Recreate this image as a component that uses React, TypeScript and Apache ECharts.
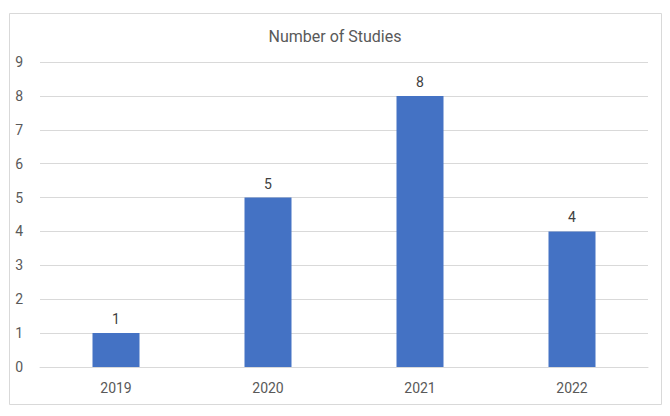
import React, { useEffect, useRef } from 'react'
import * as echarts from 'echarts'

const years = ['2019', '2020', '2021', '2022']
const studies = [1, 5, 8, 4]

const App: React.FC = () => {
    const chartRef = useRef<HTMLDivElement | null>(null)

    useEffect(() => {
        if (!chartRef.current) return
        const chart = echarts.init(chartRef.current, null, { renderer: 'svg' })

        chart.setOption({
            animation: false,
            textStyle: { fontFamily: 'Roboto, sans-serif' },
            title: {
                text: 'Number of Studies',
                left: 'center',
                top: 23,
                textStyle: { fontSize: 16, fontWeight: 'normal', color: '#595959' },
            },
            graphic: [
                {
                    type: 'rect',
                    shape: { x: 9.5, y: 13.5, width: 652, height: 391 },
                    style: { fill: 'none', stroke: '#d9d9d9', lineWidth: 1 },
                    silent: true,
                },
            ],
            grid: { left: 40, right: 22, top: 62, bottom: 49 },
            xAxis: {
                type: 'category',
                data: years,
                axisLine: { lineStyle: { color: '#d9d9d9' } },
                axisTick: { show: false },
                axisLabel: { color: '#595959', fontSize: 14, margin: 14 },
            },
            yAxis: {
                type: 'value',
                min: 0,
                max: 9,
                interval: 1,
                axisLine: { show: false },
                axisTick: { show: false },
                splitLine: { lineStyle: { color: '#d9d9d9' } },
                axisLabel: { color: '#595959', fontSize: 14, margin: 17 },
            },
            series: [
                {
                    name: 'Number of Studies',
                    type: 'bar',
                    barWidth: 47,
                    data: studies,
                    itemStyle: { color: '#4472C4' },
                    label: {
                        show: true,
                        position: 'top',
                        distance: 7,
                        color: '#404040',
                        fontSize: 14,
                    },
                },
            ],
        })

        return () => {
            chart.dispose()
        }
    }, [])

    return (
        <div
            ref={chartRef}
            style={{ position: 'fixed', left: 0, top: 0, width: '670px', height: '416px', background: '#fff' }}
        />
    )
}

export default App
